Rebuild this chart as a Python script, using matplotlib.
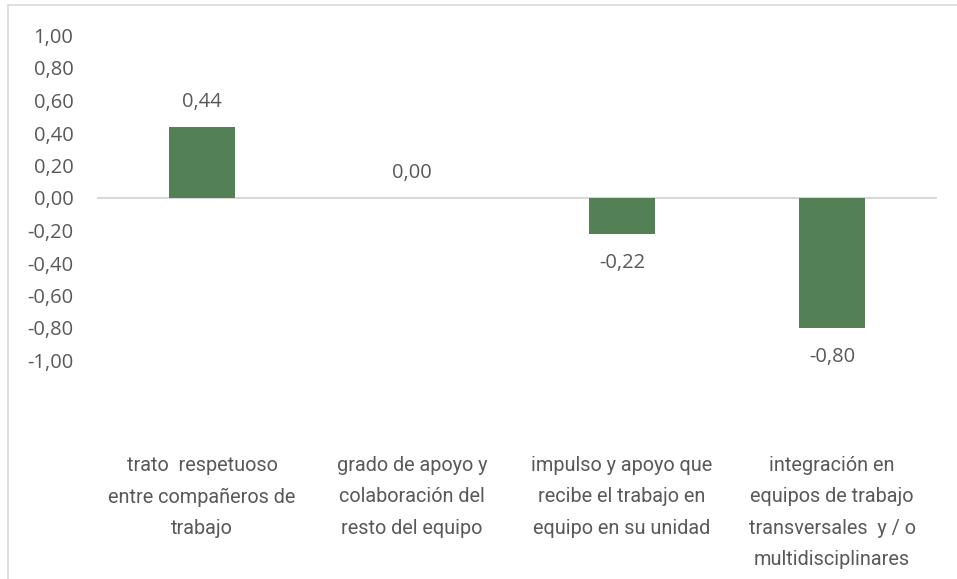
import matplotlib.pyplot as plt
from matplotlib.patches import Rectangle
from matplotlib.ticker import FuncFormatter

categories = [
    'trato  respetuoso\nentre compañeros de\ntrabajo',
    'grado de apoyo y\ncolaboración del\nresto del equipo',
    'impulso y apoyo que\nrecibe el trabajo en\nequipo en su unidad',
    'integración en\nequipos de trabajo\ntransversales  y / o\nmultidisciplinares',
]
values = [0.44, 0.00, -0.22, -0.80]
yticks = [-1.0, -0.8, -0.6, -0.4, -0.2, 0.0, 0.2, 0.4, 0.6, 0.8, 1.0]

W, H = 957, 579
text_color = '#595959'
bar_color = '#548056'
num_font = ['Open Sans', 'DejaVu Sans']
plt.rcParams['font.family'] = ['Roboto', 'DejaVu Sans']

fig = plt.figure(figsize=(W / 100, H / 100), dpi=100)
ax = fig.add_axes([97 / W, 1 - 360.5 / H, 840 / W, 325 / H])

# chart frame, cropped on right and bottom
fig.patches.append(Rectangle((8 / W, -0.5), 2, 1.5 - 5 / H, transform=fig.transFigure,
                             fill=False, edgecolor='#d9d9d9', linewidth=1.2))

x = range(len(values))
ax.bar(x, values, width=0.314, color=bar_color, zorder=2)
ax.axhline(0, color='#d9d9d9', linewidth=1.5, zorder=1)

for xi, v in zip(x, values):
    off = 18 if v >= 0 else -21
    ax.annotate(f'{v:.2f}'.replace('.', ','), (xi, v), xytext=(0, off),
                textcoords='offset points', ha='center', va='center',
                fontsize=14.5, color=text_color, family=num_font)

ax.set_xlim(-0.5, len(values) - 0.5)
ax.set_ylim(-1.0, 1.0)
ax.set_yticks(yticks)
ax.yaxis.set_major_formatter(FuncFormatter(lambda v, p: f'{v:.2f}'.replace('.', ',')))
ax.tick_params(axis='y', length=0, pad=17, labelsize=14.5, labelcolor=text_color)
for lab in ax.get_yticklabels():
    lab.set_family(num_font)
ax.set_xticks([])
for s in ax.spines.values():
    s.set_visible(False)

# category labels placed low, below the plot area
label_y = -(456 - 360.5) / 325
for xi, c in zip(x, categories):
    ax.text(xi, label_y, c, transform=ax.get_xaxis_transform(), ha='center', va='top',
            fontsize=14.3, color=text_color, linespacing=1.82)

fig.savefig('out.png', dpi=100)
